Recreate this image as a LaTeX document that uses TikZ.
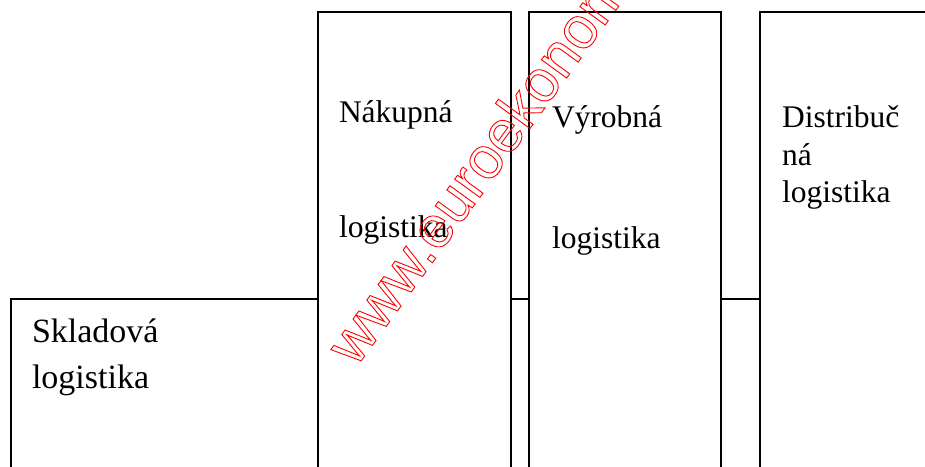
\documentclass[tikz,border=0pt]{standalone}
\usepackage{fontspec}
\setmainfont{Liberation Serif}
\newfontfamily\wmfont{Liberation Sans}
\newcommand{\outlinetext}[1]{\special{pdf:literal direct 1 Tr 0.9 w}#1\special{pdf:literal direct 0 Tr}}
\tikzset{
  box/.style={draw=black, line width=1.5pt, rectangle, inner sep=0pt, outer sep=0pt, anchor=north west},
  lbl/.style={anchor=base west, inner sep=0pt, outer sep=0pt, font=\fontsize{31.5}{37.5}\selectfont},
  lblbig/.style={anchor=base west, inner sep=0pt, outer sep=0pt, font=\fontsize{34}{40}\selectfont},
  conn/.style={draw=black, line width=1.5pt}
}
\begin{document}
\begin{tikzpicture}[x=1pt, y=-1pt]
\useasboundingbox (0,0) rectangle (925,466);
\clip (0,0) rectangle (925,466);
\fill[white] (0,0) rectangle (925,466);
% boxes
\node[box, minimum width=307pt, minimum height=220pt] (sk) at (11,299) {};
\node[box, minimum width=193pt, minimum height=520pt] (nak) at (318,12) {};
\node[box, minimum width=192pt, minimum height=520pt] (vyr) at (529,12) {};
\node[box, minimum width=220pt, minimum height=520pt] (dis) at (760,12) {};
% connectors
\draw[conn] (nak.east |- sk.north) -- (vyr.west |- sk.north);
\draw[conn] (vyr.east |- sk.north) -- (dis.west |- sk.north);
% labels
\node[lblbig] (sk1) at (32,342) {Skladová};
\node[lblbig] (sk2) at (32,388) {logistika};
\node[lbl] (nak1) at (339,122) {Nákupná};
\node[lbl] (nak2) at (339,237) {logistika};
\node[lbl] (vyr1) at (552,127) {Výrobná};
\node[lbl] (vyr2) at (552,248) {logistika};
\node[lbl] (dis1) at (782,127) {Distribuč};
\node[lbl] (dis2) at (782,165) {ná};
\node[lbl] (dis3) at (782,202) {logistika};
% watermark
\node[rotate=54, anchor=base west, inner sep=0pt, text=red] (wm) at (356,368)
  {\wmfont\fontsize{59}{59}\selectfont\outlinetext{www.euroekonom}};
\end{tikzpicture}
\end{document}
